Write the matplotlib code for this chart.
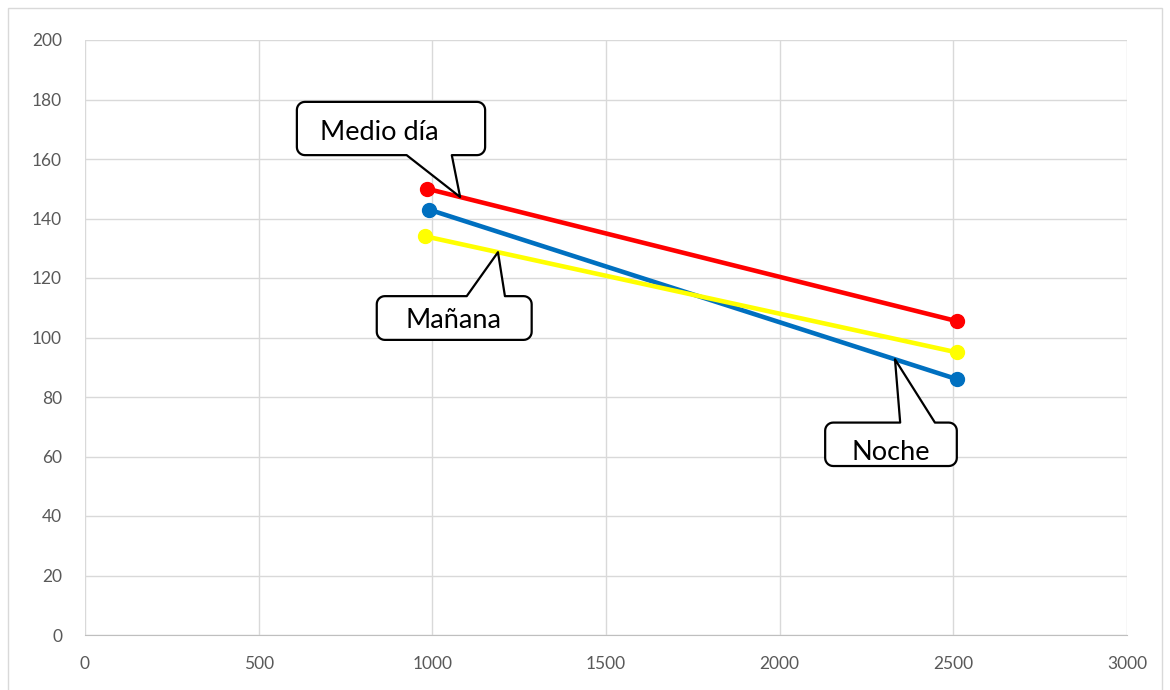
import numpy as np
import matplotlib.pyplot as plt
from matplotlib.patches import Polygon, Rectangle

plt.rcParams['font.family'] = ['Lato', 'DejaVu Sans']

# two readings per time of day
x_manana = [980, 2510]
y_manana = [134, 95]
x_medio = [985, 2510]
y_medio = [150, 105.5]
x_noche = [990, 2510]
y_noche = [143, 86]

xticks = [0, 500, 1000, 1500, 2000, 2500, 3000]
yticks = [0, 20, 40, 60, 80, 100, 120, 140, 160, 180, 200]

fig = plt.figure(figsize=(11.7, 6.9), dpi=100)
ax = fig.add_axes([85 / 1170, 1 - 635 / 690, 1042 / 1170, 595 / 690])

# light frame around the whole chart
fig.patches.append(Rectangle((8 / 1170, -0.05), 1154 / 1170, 1.05 - 8 / 690,
                             transform=fig.transFigure, fill=False,
                             ec='#d9d9d9', lw=1))

ax.plot(x_medio, y_medio, color='#ff0000', lw=3.3, marker='o', ms=10, zorder=3)
ax.plot(x_noche, y_noche, color='#0070c0', lw=3.3, marker='o', ms=10, zorder=3)
ax.plot(x_manana, y_manana, color='#ffff00', lw=3.3, marker='o', ms=10, zorder=3)

ax.set_xlim(0, 3000)
ax.set_ylim(0, 200)
ax.set_xticks(xticks)
ax.set_yticks(yticks)
ax.grid(True, color='#d9d9d9', lw=1)
ax.set_axisbelow(True)
for s in ['top', 'right', 'left']:
    ax.spines[s].set_visible(False)
ax.spines['bottom'].set_color('#bfbfbf')
ax.tick_params(length=0, labelsize=12.5, labelcolor='#595959')
ax.tick_params(axis='x', pad=15)
ax.tick_params(axis='y', pad=16.5)


def callout(box, base, tip_x, line_x, line_y, side, r=8):
    # rounded box with a wedge pointing at the line, built in pixels
    tip_y = np.interp(tip_x, line_x, line_y)
    tr = ax.transData
    (x0, y0), (x1, y1) = tr.transform([(box[0], box[2]), (box[1], box[3])])
    bx0 = tr.transform((base[0], 0))[0]
    bx1 = tr.transform((base[1], 0))[0]
    tx, ty = tr.transform((tip_x, tip_y))

    def arc(cx, cy, a0, a1):
        a = np.linspace(np.radians(a0), np.radians(a1), 8)
        return list(zip(cx + r * np.cos(a), cy + r * np.sin(a)))

    pts = []
    pts += arc(x0 + r, y0 + r, 180, 270)
    if side == 'bottom':
        pts += [(bx0, y0), (tx, ty), (bx1, y0)]
    pts += arc(x1 - r, y0 + r, 270, 360)
    pts += arc(x1 - r, y1 - r, 0, 90)
    if side == 'top':
        pts += [(bx1, y1), (tx, ty), (bx0, y1)]
    pts += arc(x0 + r, y1 - r, 90, 180)
    fig.patches.append(Polygon(pts, closed=True, fc='white', ec='black',
                               lw=1.6, joinstyle='round', transform=None,
                               zorder=5))


callout((610, 1152, 161.3, 179.2), (926, 1056), 1080, x_medio, y_medio, 'bottom')
callout((840, 1286, 99.2, 113.9), (1099, 1209), 1189, x_manana, y_manana, 'top')
callout((2131, 2510, 56.8, 71.4), (2347, 2447), 2332, x_noche, y_noche, 'top')

fig.text(379 / 1170, 1 - 133 / 690, 'Medio día', fontsize=19.5, ha='center',
         va='center', zorder=6)
fig.text(453 / 1170, 1 - 320 / 690, 'Mañana', fontsize=19.5, ha='center',
         va='center', zorder=6)
fig.text(891 / 1170, 1 - 452 / 690, 'Noche', fontsize=19.5, ha='center',
         va='center', zorder=6)

fig.savefig('out.png', dpi=100)
